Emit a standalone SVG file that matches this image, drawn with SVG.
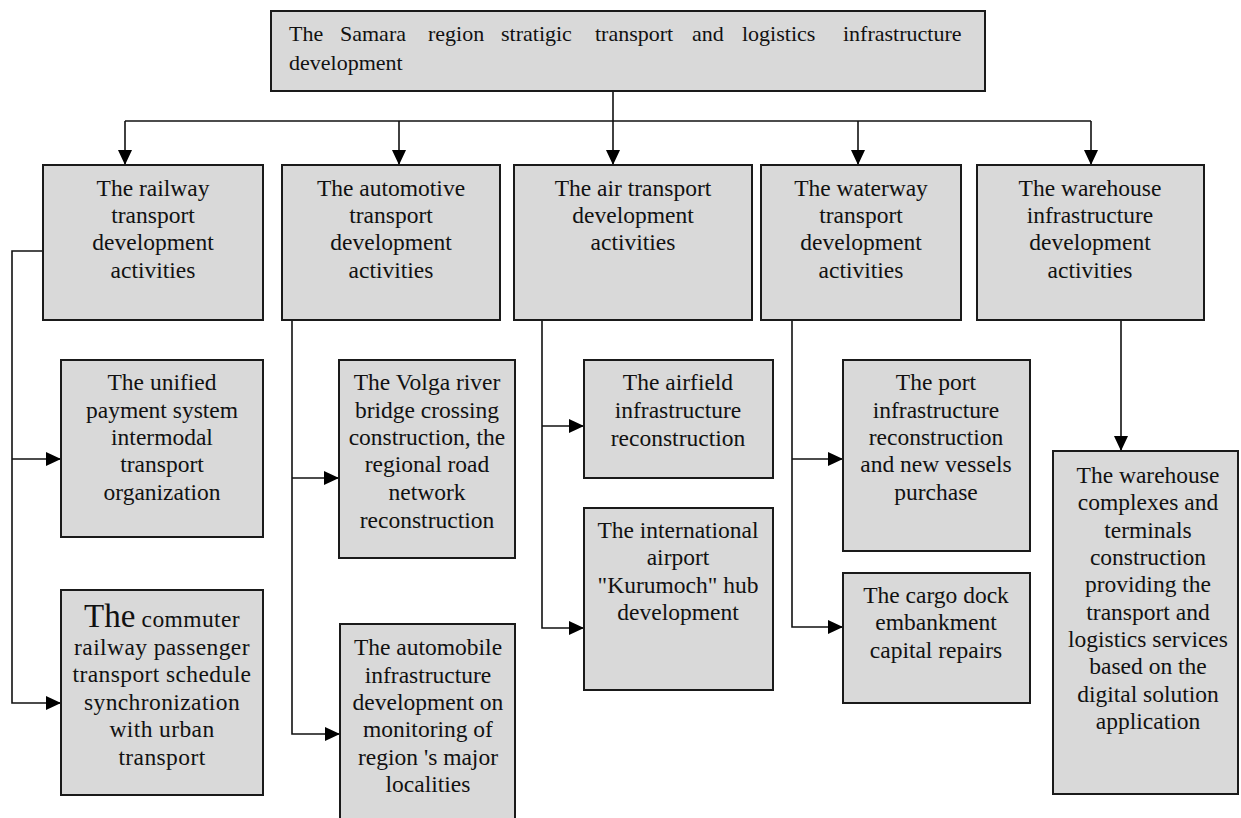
<svg xmlns="http://www.w3.org/2000/svg" width="1241" height="818" viewBox="0 0 1241 818">
<style>
.box{fill:#d9d9d9;stroke:#1a1a1a;stroke-width:2}
.t{font-family:"Liberation Serif","Times New Roman",serif;font-size:23.5px;fill:#111;text-anchor:middle}
.tt{font-family:"Liberation Serif","Times New Roman",serif;font-size:22px;fill:#111}
.ln{fill:none;stroke:#111;stroke-width:1.6}
</style>
<defs>
<marker id="ah" markerUnits="userSpaceOnUse" markerWidth="16" markerHeight="14" refX="15" refY="7" orient="auto">
<path d="M0,0 L15,7 L0,14 z" fill="#000"/>
</marker>
</defs>
<rect width="1241" height="818" fill="#fff"/>
<g id="connectors">
<path class="ln" d="M613,91 V121"/>
<path class="ln" d="M125,121 H1091"/>
<path class="ln" d="M125,121 V165" marker-end="url(#ah)"/>
<path class="ln" d="M399,121 V165" marker-end="url(#ah)"/>
<path class="ln" d="M613,121 V165" marker-end="url(#ah)"/>
<path class="ln" d="M858,121 V165" marker-end="url(#ah)"/>
<path class="ln" d="M1091,121 V165" marker-end="url(#ah)"/>
<path class="ln" d="M43,251 H12 V703 H61" marker-end="url(#ah)"/>
<path class="ln" d="M12,459 H61" marker-end="url(#ah)"/>
<path class="ln" d="M292,320 V734 H340" marker-end="url(#ah)"/>
<path class="ln" d="M292,478 H339" marker-end="url(#ah)"/>
<path class="ln" d="M542,320 V628 H584" marker-end="url(#ah)"/>
<path class="ln" d="M542,426 H584" marker-end="url(#ah)"/>
<path class="ln" d="M792,320 V627 H843" marker-end="url(#ah)"/>
<path class="ln" d="M792,459 H843" marker-end="url(#ah)"/>
<path class="ln" d="M1121,320 V451" marker-end="url(#ah)"/>
</g>
<g id="top">
<rect class="box" x="271" y="11" width="714" height="80"/>
<text class="tt" y="41"><tspan x="289">The</tspan><tspan x="340">Samara</tspan><tspan x="428">region</tspan><tspan x="501">stratigic</tspan><tspan x="595">transport</tspan><tspan x="692">and</tspan><tspan x="742">logistics</tspan><tspan x="843">infrastructure</tspan></text>
<text class="tt" x="289" y="70">development</text>
</g>
<g id="railway">
<rect class="box" x="43" y="165" width="220" height="155"/>
<text class="t"><tspan x="153" y="196">The railway</tspan><tspan x="153" y="223">transport</tspan><tspan x="153" y="250">development</tspan><tspan x="153" y="278">activities</tspan></text>
</g>
<g id="automotive">
<rect class="box" x="282" y="165" width="218" height="155"/>
<text class="t"><tspan x="391" y="196">The automotive</tspan><tspan x="391" y="223">transport</tspan><tspan x="391" y="250">development</tspan><tspan x="391" y="278">activities</tspan></text>
</g>
<g id="air">
<rect class="box" x="514" y="165" width="238" height="155"/>
<text class="t"><tspan x="633" y="196">The air transport</tspan><tspan x="633" y="223">development</tspan><tspan x="633" y="250">activities</tspan></text>
</g>
<g id="waterway">
<rect class="box" x="761" y="165" width="200" height="155"/>
<text class="t"><tspan x="861" y="196">The waterway</tspan><tspan x="861" y="223">transport</tspan><tspan x="861" y="250">development</tspan><tspan x="861" y="278">activities</tspan></text>
</g>
<g id="warehouse">
<rect class="box" x="977" y="165" width="227" height="155"/>
<text class="t"><tspan x="1090" y="196">The warehouse</tspan><tspan x="1090" y="223">infrastructure</tspan><tspan x="1090" y="250">development</tspan><tspan x="1090" y="278">activities</tspan></text>
</g>
<g id="unified">
<rect class="box" x="61" y="360" width="202" height="177"/>
<text class="t"><tspan x="162" y="390">The unified</tspan><tspan x="162" y="418">payment system</tspan><tspan x="162" y="445">intermodal</tspan><tspan x="162" y="472">transport</tspan><tspan x="162" y="500">organization</tspan></text>
</g>
<g id="commuter">
<rect class="box" x="61" y="590" width="202" height="205"/>
<text class="t" style="letter-spacing:0.4px"><tspan x="162" y="627"><tspan style="font-size:33px;letter-spacing:0">The</tspan> commuter</tspan><tspan x="162" y="655">railway passenger</tspan><tspan x="162" y="682">transport schedule</tspan><tspan x="162" y="710">synchronization</tspan><tspan x="162" y="737">with urban</tspan><tspan x="162" y="765">transport</tspan></text>
</g>
<g id="volga">
<rect class="box" x="339" y="360" width="176" height="198"/>
<text class="t"><tspan x="427" y="390">The Volga river</tspan><tspan x="427" y="418">bridge crossing</tspan><tspan x="427" y="445">construction, the</tspan><tspan x="427" y="472">regional road</tspan><tspan x="427" y="500">network</tspan><tspan x="427" y="528">reconstruction</tspan></text>
</g>
<g id="automobile">
<rect class="box" x="340" y="624" width="175" height="210"/>
<text class="t"><tspan x="428" y="655">The automobile</tspan><tspan x="428" y="683">infrastructure</tspan><tspan x="428" y="710">development on</tspan><tspan x="428" y="737">monitoring of</tspan><tspan x="428" y="765">region 's major</tspan><tspan x="428" y="792">localities</tspan></text>
</g>
<g id="airfield">
<rect class="box" x="584" y="360" width="189" height="118"/>
<text class="t"><tspan x="678" y="390">The airfield</tspan><tspan x="678" y="418">infrastructure</tspan><tspan x="678" y="446">reconstruction</tspan></text>
</g>
<g id="kurumoch">
<rect class="box" x="584" y="508" width="189" height="182"/>
<text class="t"><tspan x="678" y="538">The international</tspan><tspan x="678" y="565">airport</tspan><tspan x="678" y="593">"Kurumoch" hub</tspan><tspan x="678" y="620">development</tspan></text>
</g>
<g id="port">
<rect class="box" x="843" y="360" width="187" height="191"/>
<text class="t"><tspan x="936" y="390">The port</tspan><tspan x="936" y="418">infrastructure</tspan><tspan x="936" y="445">reconstruction</tspan><tspan x="936" y="472">and new vessels</tspan><tspan x="936" y="500">purchase</tspan></text>
</g>
<g id="cargo">
<rect class="box" x="843" y="573" width="187" height="130"/>
<text class="t"><tspan x="936" y="603">The cargo dock</tspan><tspan x="936" y="630">embankment</tspan><tspan x="936" y="658">capital repairs</tspan></text>
</g>
<g id="warehouse-complexes">
<rect class="box" x="1053" y="451" width="185" height="343"/>
<text class="t"><tspan x="1148" y="483">The warehouse</tspan><tspan x="1148" y="510">complexes and</tspan><tspan x="1148" y="538">terminals</tspan><tspan x="1148" y="565">construction</tspan><tspan x="1148" y="592">providing the</tspan><tspan x="1148" y="620">transport and</tspan><tspan x="1148" y="647">logistics services</tspan><tspan x="1148" y="674">based on the</tspan><tspan x="1148" y="702">digital solution</tspan><tspan x="1148" y="729">application</tspan></text>
</g>
</svg>
